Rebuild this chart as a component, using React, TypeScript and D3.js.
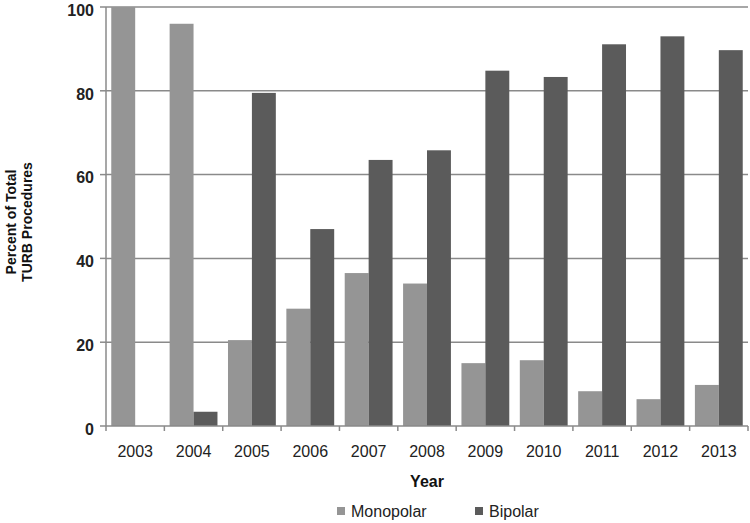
import { useEffect, useRef } from 'react';
import * as d3 from 'd3';

const years = ['2003', '2004', '2005', '2006', '2007', '2008', '2009', '2010', '2011', '2012', '2013'];
const monopolar = [100, 96, 20.5, 28, 36.5, 34, 15, 15.7, 8.3, 6.4, 9.8];
const bipolar = [0, 3.4, 79.5, 47, 63.5, 65.8, 84.8, 83.3, 91.1, 93, 89.7];
const yTicks = [0, 20, 40, 60, 80, 100];
const seriesNames = ['Monopolar', 'Bipolar'];
const seriesColors = ['#959595', '#5b5b5b'];

export default function App() {
  const ref = useRef<SVGSVGElement>(null);

  useEffect(() => {
    if (!ref.current) return;
    const svg = d3.select(ref.current);
    svg.selectAll('*').remove();

    const font = 'Arial, "Liberation Sans", sans-serif';
    const left = 106, right = 748, top = 7, bottom = 426;

    const x = d3.scaleBand<string>().domain(years).range([left, right]).padding(0);
    const x1 = d3.scaleBand<string>()
      .domain(seriesNames)
      .range([0, x.bandwidth()])
      .paddingInner(0)
      .paddingOuter(0.22);
    const y = d3.scaleLinear().domain([0, 100]).range([bottom, top]);

    // gridlines
    svg.append('g')
      .selectAll('line')
      .data(yTicks.filter(d => d > 0))
      .enter()
      .append('line')
      .attr('x1', left)
      .attr('x2', right)
      .attr('y1', d => y(d))
      .attr('y2', d => y(d))
      .attr('stroke', '#8a8a8a')
      .attr('stroke-width', 1.5);

    // bars
    const data = years.map((yr, i) => ({ yr, vals: [monopolar[i], bipolar[i]] }));
    const groups = svg.append('g')
      .selectAll('g')
      .data(data)
      .enter()
      .append('g')
      .attr('transform', d => `translate(${x(d.yr)},0)`);

    groups.selectAll('rect')
      .data(d => d.vals.map((v, j) => ({ v, name: seriesNames[j], color: seriesColors[j] })))
      .enter()
      .append('rect')
      .attr('x', d => x1(d.name)!)
      .attr('width', x1.bandwidth())
      .attr('y', d => y(d.v))
      .attr('height', d => bottom - y(d.v))
      .attr('fill', d => d.color);

    // y axis
    svg.append('line')
      .attr('x1', left).attr('x2', left)
      .attr('y1', top).attr('y2', bottom)
      .attr('stroke', '#8a8a8a').attr('stroke-width', 1.5);
    const yAxis = svg.append('g');
    yTicks.forEach(t => {
      yAxis.append('line')
        .attr('x1', left - 6).attr('x2', left)
        .attr('y1', y(t)).attr('y2', y(t))
        .attr('stroke', '#8a8a8a').attr('stroke-width', 1.5);
      yAxis.append('text')
        .attr('x', 94)
        .attr('y', y(t) + 3)
        .attr('dy', '0.36em')
        .attr('text-anchor', 'end')
        .style('font-family', font)
        .style('font-size', '16px')
        .style('font-weight', 'bold')
        .attr('fill', '#222')
        .text(t);
    });

    // x axis
    svg.append('line')
      .attr('x1', left).attr('x2', right)
      .attr('y1', bottom).attr('y2', bottom)
      .attr('stroke', '#8a8a8a').attr('stroke-width', 1.5);
    const xAxis = svg.append('g');
    years.forEach((yr, i) => {
      const bx = x(yr)!;
      xAxis.append('line')
        .attr('x1', bx + x.bandwidth()).attr('x2', bx + x.bandwidth())
        .attr('y1', bottom).attr('y2', bottom + 5)
        .attr('stroke', '#8a8a8a').attr('stroke-width', 1.5);
      if (i === 0) {
        xAxis.append('line')
          .attr('x1', bx).attr('x2', bx)
          .attr('y1', bottom).attr('y2', bottom + 5)
          .attr('stroke', '#8a8a8a').attr('stroke-width', 1.5);
      }
      xAxis.append('text')
        .attr('x', bx + x.bandwidth() / 2)
        .attr('y', 457)
        .attr('text-anchor', 'middle')
        .style('font-family', font)
        .style('font-size', '16px')
        .attr('fill', '#222')
        .text(yr);
    });

    // axis titles
    svg.append('text')
      .attr('x', (left + right) / 2)
      .attr('y', 487)
      .attr('text-anchor', 'middle')
      .style('font-family', font)
      .style('font-size', '16px')
      .style('font-weight', 'bold')
      .attr('fill', '#111')
      .text('Year');

    const yTitle = svg.append('text')
      .attr('transform', 'translate(16,222) rotate(-90)')
      .attr('text-anchor', 'middle')
      .style('font-family', font)
      .style('font-size', '14px')
      .style('font-weight', 'bold')
      .attr('fill', '#111');
    yTitle.append('tspan').attr('x', 0).attr('dy', 0).text('Percent of Total');
    yTitle.append('tspan').attr('x', 0).attr('dy', '1.15em').text('TURB Procedures');

    // legend
    const legendX = [337, 475];
    seriesNames.forEach((name, i) => {
      svg.append('rect')
        .attr('x', legendX[i]).attr('y', 507)
        .attr('width', 8).attr('height', 8)
        .attr('fill', seriesColors[i]);
      svg.append('text')
        .attr('x', legendX[i] + 14)
        .attr('y', 517)
        .style('font-family', font)
        .style('font-size', '16px')
        .attr('fill', '#222')
        .text(name);
    });
  }, []);

  return (
    <svg
      ref={ref}
      width={750}
      height={523}
      style={{ position: 'absolute', left: 0, top: 0, background: '#fff' }}
    />
  );
}
